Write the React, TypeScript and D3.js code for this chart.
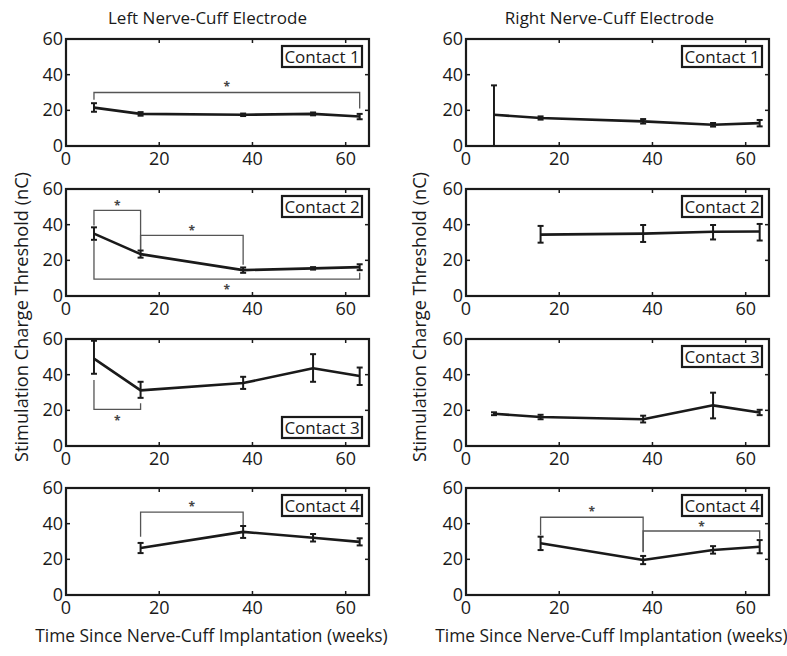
import React from "react";
import * as d3 from "d3";

// sampling times (weeks since implantation)
const weeks = [6, 16, 38, 53, 63];
const xTicks = [0, 20, 40, 60];
const yTicks = [0, 20, 40, 60];
const contacts = ["Contact 1", "Contact 2", "Contact 3", "Contact 4"];

// left electrode, one row per contact (null = no data)
const leftMean = [
  [21.5, 18, 17.5, 18, 16.5],
  [35, 23.5, 14.5, 15.5, 16.2],
  [49, 31.2, 35.3, 43.6, 39.2],
  [null, 26.4, 35.4, 32.1, 29.8],
];
const leftLow = [
  [19.2, 17, 16.8, 17.2, 15],
  [31.5, 21.5, 13, 14.8, 14.5],
  [40.5, 27, 32, 36, 34.2],
  [null, 23.5, 32, 30, 27.8],
];
const leftHigh = [
  [24, 19, 18.2, 18.8, 18],
  [38.5, 25.5, 16, 16.2, 17.8],
  [59, 36, 38.8, 51.5, 44],
  [null, 29.2, 38.7, 34.2, 31.8],
];

// right electrode
const rightMean = [
  [17.5, 15.7, 13.8, 11.9, 12.8],
  [null, 34.4, 35, 36, 36.2],
  [18.1, 16.3, 15, 22.8, 18.8],
  [null, 29, 19.6, 25.2, 27.1],
];
const rightLow = [
  [0, 14.8, 12.6, 10.9, 11],
  [null, 29.9, 30.3, 31.7, 31.1],
  [17.3, 15, 13.2, 15.5, 17.3],
  [null, 25.2, 17.3, 23.2, 23.4],
];
const rightHigh = [
  [34, 16.6, 15.1, 12.9, 14.6],
  [null, 39.3, 39.8, 39.8, 40.4],
  [18.9, 17.5, 17, 29.9, 20.3],
  [null, 32.7, 21.9, 27.4, 30.8],
];

// significance brackets: [side, contact, x1, x2, barY, leg1Y, leg2Y, starY]
const brackets: [string, number, number, number, number, number, number, number][] = [
  ["L", 0, 6, 63, 30, 26, 21, 34.5],
  ["L", 1, 6, 16, 48, 39.5, 26, 52],
  ["L", 1, 16, 38, 34, 26, 17.5, 38],
  ["L", 1, 6, 63, 9.5, 31, 13, 5],
  ["L", 2, 6, 16, 20.5, 37, 24, 15.5],
  ["L", 3, 16, 38, 46.5, 32.7, 39, 51],
  ["R", 3, 16, 38, 43.6, 33.5, 24.3, 47.7],
  ["R", 3, 38, 63, 35.9, 24, 31.5, 39.3],
];

const W = 787;
const H = 656;
const colX = [66, 466];
const plotW = 303;
const plotH = 107;
const rowTop = [39, 189, 339, 488];
const FONT = "'Open Sans', 'DejaVu Sans', sans-serif";
const ink = "#1a1a1a";

function Panel({ side, idx }: { side: string; idx: number }) {
  const left = side === "L" ? colX[0] : colX[1];
  const top = rowTop[idx];
  const x = d3.scaleLinear().domain([0, 65]).range([left, left + plotW]);
  const y = d3.scaleLinear().domain([0, 60]).range([top + plotH, top]);

  const mean = side === "L" ? leftMean[idx] : rightMean[idx];
  const low = side === "L" ? leftLow[idx] : rightLow[idx];
  const high = side === "L" ? leftHigh[idx] : rightHigh[idx];

  const pts = weeks
    .map((w, i) => ({ w, m: mean[i], lo: low[i], hi: high[i] }))
    .filter((d) => d.m != null) as { w: number; m: number; lo: number; hi: number }[];

  const line = d3
    .line<{ w: number; m: number }>()
    .x((d) => x(d.w))
    .y((d) => y(d.m));

  const tk = 4;
  const myBrackets = brackets.filter((b) => b[0] === side && b[1] === idx);
  const boxBottom = side === "L" && idx === 2;
  const boxW = 80;
  const boxH = 21;
  const boxX = left + plotW - 7 - boxW;
  const boxY = boxBottom ? top + plotH - 8 - boxH : top + 7;

  return (
    <g>
      {/* ticks inside on all sides */}
      {xTicks.map((t) => (
        <g key={"xt" + t}>
          <line x1={x(t)} x2={x(t)} y1={top + plotH} y2={top + plotH - tk} stroke={ink} strokeWidth={1.5} />
          <line x1={x(t)} x2={x(t)} y1={top} y2={top + tk} stroke={ink} strokeWidth={1.5} />
          <text x={x(t)} y={top + plotH + 19} textAnchor="middle" fontSize={18} fill={ink} fontFamily={FONT}>
            {t}
          </text>
        </g>
      ))}
      {yTicks.map((t) => (
        <g key={"yt" + t}>
          <line x1={left} x2={left + tk} y1={y(t)} y2={y(t)} stroke={ink} strokeWidth={1.5} />
          <line x1={left + plotW} x2={left + plotW - tk} y1={y(t)} y2={y(t)} stroke={ink} strokeWidth={1.5} />
          <text x={left - 3} y={y(t) + 6} textAnchor="end" fontSize={18} fill={ink} fontFamily={FONT}>
            {t}
          </text>
        </g>
      ))}

      {/* significance brackets */}
      {myBrackets.map((b, i) => {
        const [, , x1, x2, by, l1, l2, sy] = b;
        return (
          <g key={"br" + i}>
            <path
              d={`M${x(x1)},${y(l1)}V${y(by)}H${x(x2)}V${y(l2)}`}
              fill="none"
              stroke="#555"
              strokeWidth={1.3}
            />
            <text x={x((x1 + x2) / 2)} y={y(sy) + 6.5} textAnchor="middle" fontSize={12} fontWeight="bold" fill="#444" fontFamily={FONT}>
              *
            </text>
          </g>
        );
      })}

      {/* error bars */}
      {pts.map((d, i) => (
        <g key={"eb" + i} stroke={ink} strokeWidth={2}>
          <line x1={x(d.w)} x2={x(d.w)} y1={y(d.lo)} y2={y(d.hi)} />
          <line x1={x(d.w) - 3} x2={x(d.w) + 3} y1={y(d.lo)} y2={y(d.lo)} />
          <line x1={x(d.w) - 3} x2={x(d.w) + 3} y1={y(d.hi)} y2={y(d.hi)} />
        </g>
      ))}
      <path d={line(pts) || ""} fill="none" stroke={ink} strokeWidth={2.6} strokeLinejoin="round" />

      {/* frame */}
      <rect x={left} y={top} width={plotW} height={plotH} fill="none" stroke={ink} strokeWidth={2.2} />

      {/* contact label */}
      <rect x={boxX} y={boxY} width={boxW} height={boxH} fill="#fff" stroke={ink} strokeWidth={2.2} />
      <text x={boxX + boxW / 2} y={boxY + boxH / 2 + 6} textAnchor="middle" fontSize={17} fill={ink} fontFamily={FONT}>
        {contacts[idx]}
      </text>
    </g>
  );
}

export default function App() {
  const yLabelY = 317;
  return (
    <svg width={W} height={H} style={{ display: "block", position: "absolute", left: 0, top: 0, background: "#fff" }}>
      <rect width={W} height={H} fill="#fff" />
      <text x={colX[0] + plotW / 2 - 10} y={24} textAnchor="middle" fontSize={17} fill={ink} fontFamily={FONT}>
        Left Nerve-Cuff Electrode
      </text>
      <text x={colX[1] + plotW / 2 - 8} y={24} textAnchor="middle" fontSize={17} fill={ink} fontFamily={FONT}>
        Right Nerve-Cuff Electrode
      </text>
      {[23, 421].map((lx) => (
        <text
          key={"yl" + lx}
          transform={`translate(${lx},${yLabelY}) rotate(-90)`}
          textAnchor="middle"
          dominantBaseline="middle"
          fontSize={18.2}
          fill={ink}
          fontFamily={FONT}
        >
          Stimulation Charge Threshold (nC)
        </text>
      ))}
      {[colX[0], colX[1]].map((cx) => (
        <text key={"xl" + cx} x={cx + plotW / 2 - 6} y={642} textAnchor="middle" fontSize={17.4} fill={ink} fontFamily={FONT}>
          Time Since Nerve-Cuff Implantation (weeks)
        </text>
      ))}
      {contacts.map((c, i) => (
        <g key={c}>
          <Panel side="L" idx={i} />
          <Panel side="R" idx={i} />
        </g>
      ))}
    </svg>
  );
}
